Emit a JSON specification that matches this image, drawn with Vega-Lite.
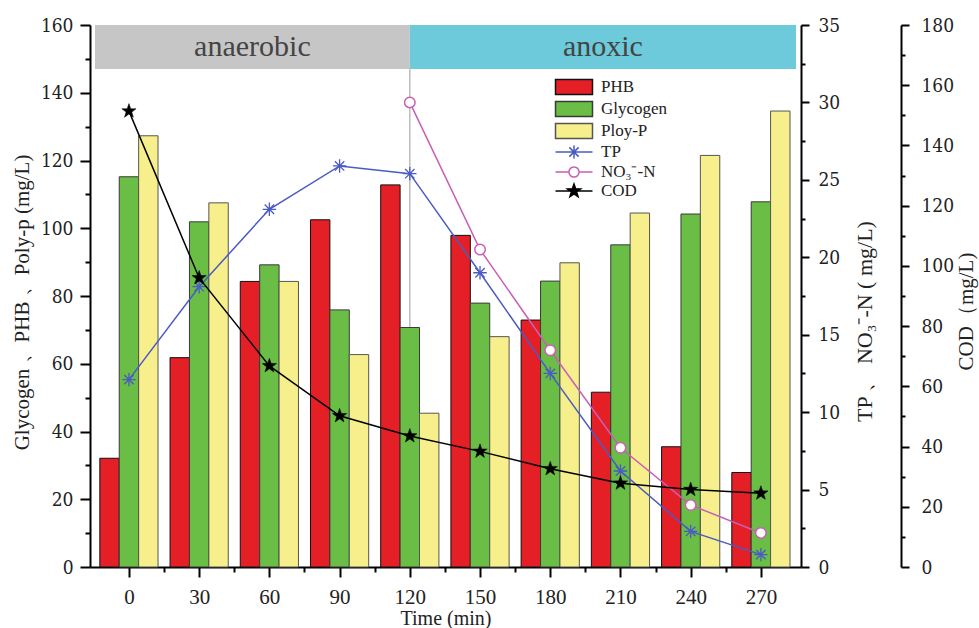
{
  "$schema": "https://vega.github.io/schema/vega-lite/v6.json",
  "autosize": "none",
  "width": 711,
  "height": 542,
  "padding": {"left": 90, "top": 25, "right": 178, "bottom": 61},
  "background": "white",
  "config": {
    "view": {"stroke": null},
    "axis": {
      "grid": false,
      "domainColor": "#000",
      "domainWidth": 2,
      "tickColor": "#000",
      "tickWidth": 2,
      "labelColor": "#222",
      "labelFont": "DejaVu Serif Condensed, DejaVu Serif",
      "labelFontSize": 19,
      "titleFont": "Liberation Serif",
      "titleFontWeight": "normal",
      "titleFontSize": 21,
      "titleColor": "#222"
    },
    "legend": {
      "labelFont": "Liberation Serif",
      "labelFontSize": 17,
      "labelColor": "#222"
    }
  },
  "datasets": {
    "samples": [
      {"time": 0, "PHB": 32.1, "Glycogen": 115.2, "PolyP": 127.3, "TP": 12.1, "NO3": null, "COD": 151.4},
      {"time": 30, "PHB": 61.8, "Glycogen": 101.9, "PolyP": 107.5, "TP": 18.1, "NO3": null, "COD": 96.0},
      {"time": 60, "PHB": 84.3, "Glycogen": 89.2, "PolyP": 84.3, "TP": 23.1, "NO3": null, "COD": 66.8},
      {"time": 90, "PHB": 102.5, "Glycogen": 75.9, "PolyP": 62.7, "TP": 25.9, "NO3": null, "COD": 50.2},
      {"time": 120, "PHB": 112.8, "Glycogen": 70.7, "PolyP": 45.4, "TP": 25.4, "NO3": 30.0, "COD": 43.5},
      {"time": 150, "PHB": 97.9, "Glycogen": 77.9, "PolyP": 68.0, "TP": 19.0, "NO3": 20.5, "COD": 38.4},
      {"time": 180, "PHB": 72.9, "Glycogen": 84.4, "PolyP": 89.8, "TP": 12.5, "NO3": 14.0, "COD": 32.6},
      {"time": 210, "PHB": 51.6, "Glycogen": 95.1, "PolyP": 104.5, "TP": 6.2, "NO3": 7.7, "COD": 27.8},
      {"time": 240, "PHB": 35.5, "Glycogen": 104.2, "PolyP": 121.5, "TP": 2.3, "NO3": 4.0, "COD": 25.7},
      {"time": 270, "PHB": 27.9, "Glycogen": 107.8, "PolyP": 134.6, "TP": 0.8, "NO3": 2.2, "COD": 24.5}
    ],
    "phases": [
      {"phase": "anaerobic", "from": -14.5, "to": 120},
      {"phase": "anoxic", "from": 120, "to": 285}
    ],
    "keys": [
      {"series": "PHB"},
      {"series": "Glycogen"},
      {"series": "Ploy-P"},
      {"series": "TP"},
      {"series": "NO₃⁻-N"},
      {"series": "COD"}
    ]
  },
  "layer": [
    {
      "layer": [
        {
          "data": {"name": "phases"},
          "mark": {"type": "rect"},
          "encoding": {
            "x": {"field": "from", "type": "quantitative", "scale": {"domain": [-14.5, 285], "nice": false, "zero": false}, "axis": null},
            "x2": {"field": "to"},
            "y": {"datum": 147, "type": "quantitative", "scale": {"domain": [0, 160], "nice": false}, "axis": null},
            "y2": {"datum": 160},
            "color": {"field": "phase", "type": "nominal", "scale": {"domain": ["anaerobic", "anoxic"], "range": ["#c6c6c6", "#6ccadb"]}, "legend": null}
          }
        },
        {
          "data": {"name": "phases"},
          "transform": [
            {"fold": ["from", "to"], "as": ["edge", "t"]},
            {"aggregate": [{"op": "mean", "field": "t", "as": "mid"}], "groupby": ["phase"]}
          ],
          "mark": {"type": "text", "font": "Liberation Serif", "fontSize": 30, "fill": "#444", "baseline": "middle", "align": "center"},
          "encoding": {
            "x": {"field": "mid", "type": "quantitative", "axis": null},
            "y": {"datum": 153.5, "type": "quantitative", "axis": null},
            "text": {"field": "phase"}
          }
        },
        {
          "data": {"name": "phases"},
          "transform": [{"filter": "datum.phase === 'anaerobic'"}],
          "mark": {"type": "rule", "stroke": "#bdbdbd", "strokeWidth": 1.5},
          "encoding": {
            "x": {"field": "to", "type": "quantitative", "axis": null},
            "y": {"datum": 0, "type": "quantitative", "axis": null},
            "y2": {"datum": 147}
          }
        },
        {
          "data": {"name": "samples"},
          "mark": {"type": "bar", "xOffset": -19.4, "width": 19.4, "stroke": "#111", "strokeWidth": 1},
          "encoding": {
            "x": {
              "field": "time", "type": "quantitative",
              "axis": {"orient": "bottom", "values": [0, 30, 60, 90, 120, 150, 180, 210, 240, 270], "tickSize": 10, "labelFont": "Liberation Serif", "labelFontSize": 21, "labelPadding": 9, "title": "Time (min)", "titleFontSize": 20, "titlePadding": 1}
            },
            "y": {
              "field": "PHB", "type": "quantitative",
              "axis": {"orient": "left", "values": [0, 20, 40, 60, 80, 100, 120, 140, 160], "tickSize": 10, "labelPadding": 7, "title": "Glycogen 、PHB 、Poly-p (mg/L)", "titlePadding": 8, "titleY": 277}
            },
            "fill": {"datum": "PHB", "type": "nominal"}
          }
        },
        {
          "data": {"name": "samples"},
          "mark": {"type": "bar", "xOffset": 0, "width": 19.4, "stroke": "#3a3a3a", "strokeWidth": 1},
          "encoding": {
            "x": {
              "field": "time", "type": "quantitative",
              "axis": {"orient": "bottom", "values": [15, 45, 75, 105, 135, 165, 195, 225, 255], "tickSize": 5, "labels": false, "domain": false, "title": null}
            },
            "y": {
              "field": "Glycogen", "type": "quantitative",
              "axis": {"orient": "left", "values": [10, 30, 50, 70, 90, 110, 130, 150], "tickSize": 5, "labels": false, "domain": false, "title": null}
            },
            "fill": {"datum": "Glycogen", "type": "nominal"}
          }
        },
        {
          "data": {"name": "samples"},
          "mark": {"type": "bar", "xOffset": 19.4, "width": 19.4, "stroke": "#555", "strokeWidth": 1},
          "encoding": {
            "x": {"field": "time", "type": "quantitative", "axis": null},
            "y": {"field": "PolyP", "type": "quantitative", "axis": null},
            "fill": {"datum": "Ploy-P", "type": "nominal"}
          }
        }
      ],
      "resolve": {"axis": {"x": "independent", "y": "independent"}}
    },
    {
      "layer": [
        {
          "data": {"name": "samples"},
          "mark": {"type": "line", "stroke": "#4a5bc4", "strokeWidth": 1.5},
          "encoding": {
            "x": {"field": "time", "type": "quantitative", "axis": null},
            "y": {
              "field": "TP", "type": "quantitative", "scale": {"domain": [0, 35], "nice": false},
              "axis": {"orient": "right", "values": [0, 5, 10, 15, 20, 25, 30, 35], "tickSize": 8, "labelPadding": 9, "title": "TP 、 NO₃⁻-N ( mg/L)", "titleFontSize": 22, "titleAngle": 270, "titleBaseline": "top", "titlePadding": 15, "titleY": 296}
            }
          }
        },
        {
          "data": {"name": "samples"},
          "mark": {"type": "line", "stroke": "#c95fb6", "strokeWidth": 1.5},
          "encoding": {
            "x": {"field": "time", "type": "quantitative", "axis": null},
            "y": {
              "field": "NO3", "type": "quantitative",
              "axis": {"orient": "right", "values": [2.5, 7.5, 12.5, 17.5, 22.5, 27.5, 32.5], "tickSize": 4, "labels": false, "domain": false, "title": null}
            }
          }
        },
        {
          "data": {"name": "samples"},
          "mark": {"type": "point", "shape": "M-1,0H1M0,-1V1M-0.7,-0.7L0.7,0.7M-0.7,0.7L0.7,-0.7", "size": 180, "stroke": "#4a5bc4", "strokeWidth": 1.3, "opacity": 1},
          "encoding": {
            "x": {"field": "time", "type": "quantitative", "axis": null},
            "y": {"field": "TP", "type": "quantitative", "axis": null}
          }
        },
        {
          "data": {"name": "samples"},
          "mark": {"type": "point", "shape": "circle", "size": 110, "filled": true, "fill": "#fff", "stroke": "#c95fb6", "strokeWidth": 1.5, "opacity": 1},
          "encoding": {
            "x": {"field": "time", "type": "quantitative", "axis": null},
            "y": {"field": "NO3", "type": "quantitative", "axis": null}
          }
        }
      ],
      "resolve": {"axis": {"y": "independent"}}
    },
    {
      "layer": [
        {
          "data": {"name": "samples"},
          "mark": {"type": "line", "stroke": "#000", "strokeWidth": 1.5},
          "encoding": {
            "x": {"field": "time", "type": "quantitative", "axis": null},
            "y": {
              "field": "COD", "type": "quantitative", "scale": {"domain": [0, 180], "nice": false},
              "axis": {"orient": "right", "offset": 100, "values": [0, 20, 40, 60, 80, 100, 120, 140, 160, 180], "tickSize": 8, "labelPadding": 12, "title": "COD（mg/L)", "titleAngle": 270, "titleBaseline": "top", "titlePadding": 2, "titleY": 286}
            }
          }
        },
        {
          "data": {"name": "samples"},
          "mark": {"type": "point", "shape": "M0,-1L0.235,-0.324L0.951,-0.309L0.38,0.124L0.588,0.809L0,0.4L-0.588,0.809L-0.38,0.124L-0.951,-0.309L-0.235,-0.324Z", "size": 225, "filled": true, "fill": "#000", "stroke": "#000", "strokeWidth": 0.5, "opacity": 1},
          "encoding": {
            "x": {"field": "time", "type": "quantitative", "axis": null},
            "y": {
              "field": "COD", "type": "quantitative",
              "axis": {"orient": "right", "offset": 100, "values": [10, 30, 50, 70, 90, 110, 130, 150, 170], "tickSize": 4, "labels": false, "domain": false, "title": null}
            }
          }
        }
      ],
      "resolve": {"axis": {"y": "independent"}}
    },
    {
      "data": {"name": "keys"},
      "mark": {"type": "point", "filled": true},
      "encoding": {
        "opacity": {"value": 0},
        "fill": {
          "field": "series", "type": "nominal",
          "scale": {"domain": ["PHB", "Glycogen", "Ploy-P", "TP", "NO₃⁻-N", "COD"], "range": ["#e41f26", "#6abd45", "#f7ef8b", "#4a5bc4", "#ffffff", "#000000"]},
          "legend": {"title": null, "orient": "none", "legendX": 474, "legendY": 52, "symbolSize": 342, "symbolStrokeWidth": 1.5, "symbolOpacity": 1, "labelOffset": 17, "rowPadding": 0}
        },
        "stroke": {
          "field": "series", "type": "nominal",
          "scale": {"domain": ["PHB", "Glycogen", "Ploy-P", "TP", "NO₃⁻-N", "COD"], "range": ["#111111", "#3a3a3a", "#555555", "#4a5bc4", "#c95fb6", "#000000"]},
          "legend": {"title": null, "orient": "none", "legendX": 474, "legendY": 52, "symbolSize": 342, "symbolStrokeWidth": 1.5, "symbolOpacity": 1, "labelOffset": 17, "rowPadding": 0}
        },
        "shape": {
          "field": "series", "type": "nominal",
          "scale": {"domain": ["PHB", "Glycogen", "Ploy-P", "TP", "NO₃⁻-N", "COD"], "range": [
            "M-2,-0.8H2V0.8H-2Z",
            "M-2,-0.8H2V0.8H-2Z",
            "M-2,-0.8H2V0.8H-2Z",
            "M-2,0H2M0,-0.7V0.7M-0.5,-0.5L0.5,0.5M-0.5,0.5L0.5,-0.5",
            "M-2,0H-0.55M0.55,0H2M-0.55,0A0.55,0.55,0,1,1,0.55,0A0.55,0.55,0,1,1,-0.55,0Z",
            "M-2,0H2M0,-0.75L0.176,-0.243L0.713,-0.232L0.285,0.093L0.441,0.607L0,0.3L-0.441,0.607L-0.285,0.093L-0.713,-0.232L-0.176,-0.243Z"
          ]},
          "legend": {"title": null, "orient": "none", "legendX": 474, "legendY": 52, "symbolSize": 342, "symbolStrokeWidth": 1.5, "symbolOpacity": 1, "labelOffset": 17, "rowPadding": 0}
        }
      }
    }
  ],
  "resolve": {"scale": {"y": "independent"}}
}
